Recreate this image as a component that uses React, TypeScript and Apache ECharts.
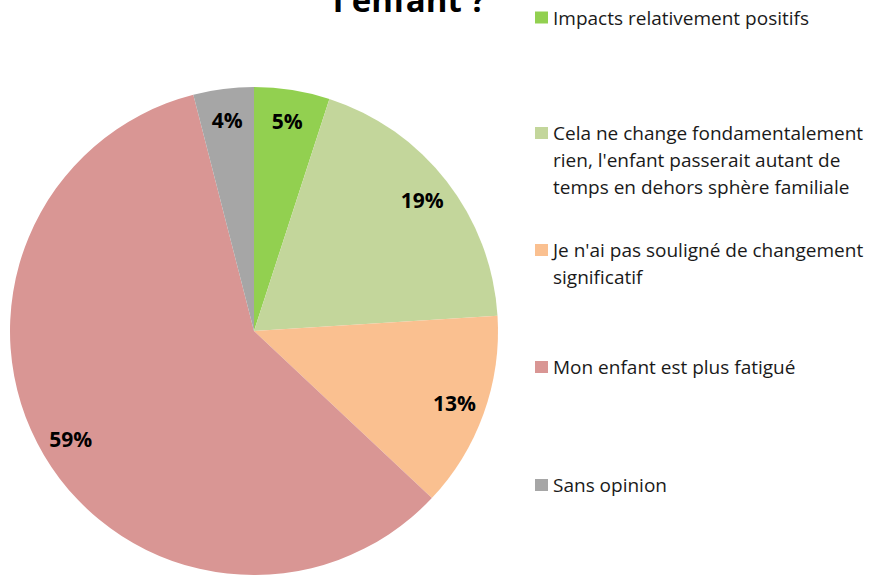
import React, { useEffect, useRef } from "react";
import * as echarts from "echarts";

const categories = [
  "Impacts relativement positifs",
  "Cela ne change fondamentalement rien, l'enfant passerait autant de temps en dehors sphère familiale",
  "Je n'ai pas souligné de changement significatif",
  "Mon enfant est plus fatigué",
  "Sans opinion",
];
const legendLines = [
  ["Impacts relativement positifs"],
  ["Cela ne change fondamentalement", "rien, l'enfant passerait autant de", "temps en dehors sphère familiale"],
  ["Je n'ai pas souligné de changement", "significatif"],
  ["Mon enfant est plus fatigué"],
  ["Sans opinion"],
];
const values = [5, 19, 13, 59, 4];
const colors = ["#92D050", "#C3D69B", "#FAC090", "#D99694", "#A6A6A6"];
const legendCenters = [17.5, 133, 250, 367, 485];
const titleText = "l'enfant ?";

export default function App() {
  const ref = useRef<HTMLDivElement>(null);
  useEffect(() => {
    if (!ref.current) return;
    const chart = echarts.init(ref.current, null, { renderer: "svg" });
    const font = "'Open Sans', Lato, sans-serif";
    const lh = 27;
    const data = categories.map((c, i) => ({ name: c, value: values[i], itemStyle: { color: colors[i] } }));
    chart.setOption({
      animation: false,
      backgroundColor: "#ffffff",
      title: {
        text: titleText,
        left: 333,
        top: -17,
        padding: 0,
        textStyle: { fontFamily: font, fontSize: 33, fontWeight: "bold", color: "#000000" },
      },
      legend: categories.map((c, i) => {
        const n = legendLines[i].length;
        const text = "\n".repeat(n - 1) + legendLines[i].join("\n");
        return {
          data: [c],
          left: 535,
          top: legendCenters[i] - ((2 * n - 1) * lh) / 2,
          orient: "vertical",
          icon: "rect",
          itemWidth: 13,
          itemHeight: 12,
          selectedMode: false,
          padding: 0,
          formatter: () => text,
          textStyle: {
            fontFamily: font,
            fontSize: 19,
            color: "#1a1a1a",
            lineHeight: lh,
          },
        };
      }),
      series: [
        {
          type: "pie",
          center: [254, 331],
          radius: [0, 244],
          startAngle: 90,
          clockwise: true,
          data,
          label: { show: false },
          labelLine: { show: false },
          emphasis: { disabled: true },
        },
        {
          type: "pie",
          center: [254, 331],
          radius: [176, 244],
          startAngle: 90,
          clockwise: true,
          silent: true,
          data: categories.map((c, i) => ({ name: c, value: values[i], itemStyle: { color: "rgba(0,0,0,0)" } })),
          label: {
            show: true,
            position: "inside",
            formatter: (p: any) => p.value + "%",
            fontFamily: font,
            fontSize: 21,
            fontWeight: "bold",
            color: "#000000",
          },
          labelLine: { show: false },
          emphasis: { disabled: true },
        },
      ],
    });
    return () => chart.dispose();
  }, []);
  return (
    <div
      ref={ref}
      style={{ position: "fixed", left: 0, top: 0, width: 875, height: 575 }}
    />
  );
}
